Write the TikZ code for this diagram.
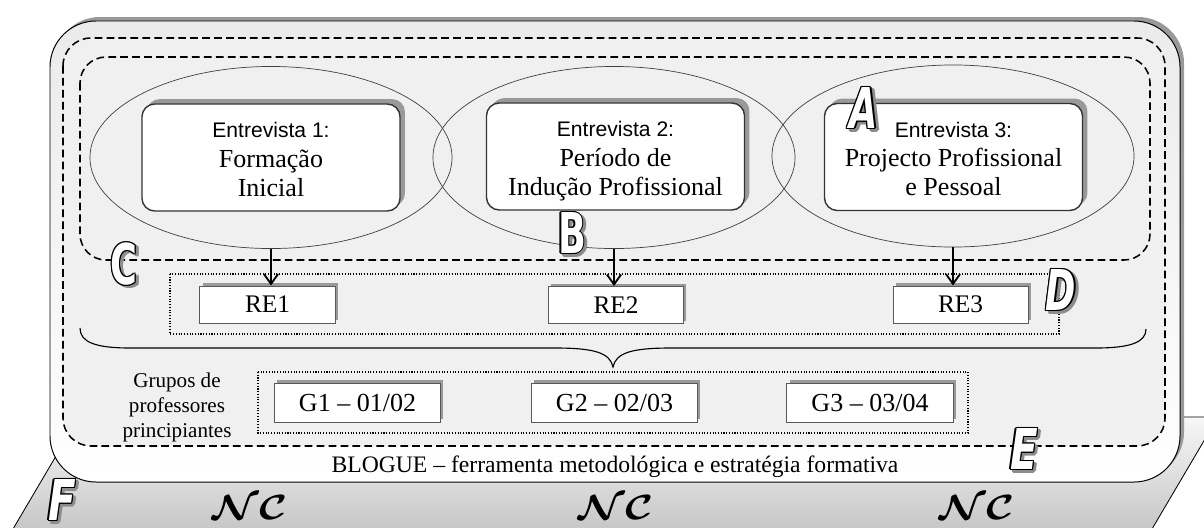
\documentclass[tikz,border=0pt]{standalone}
\usepackage{fontspec}
\setmainfont{Liberation Serif}
\newfontfamily\esans{Liberation Sans}
\newfontfamily\letfont{DejaVu Sans}
\usetikzlibrary{shapes.geometric,shadows,arrows.meta,calc}

\newcommand\outletter[5]{% name, x, y, xscale, text
  \foreach \a in {0,45,...,315}{
    \node[letter, text=black!45, shift={(\a:1pt)}, xshift=2pt, yshift=-1.5pt] at (#2,#3) {\scalebox{#4}[1]{#5}};
  }
  \foreach \a in {0,45,...,315}{
    \node[letter, text=black, shift={(\a:0.9pt)}] at (#2,#3) {\scalebox{#4}[1]{#5}};
  }
  \node[letter, text=white] (#1) at (#2,#3) {\scalebox{#4}[1]{#5}};
}

\begin{document}
\begin{tikzpicture}[x=0.025cm,y=-0.025cm,
  dashedbox/.style={line width=1.1pt, dash pattern=on 5.5pt off 3pt},
  dottedbox/.style={line width=0.75pt, dash pattern=on 0.75pt off 1.2pt},
  ebox/.style={draw=black!80, line width=1pt, fill=white, rounded corners=0.32cm,
    minimum width=6.45cm, minimum height=2.675cm, inner sep=0pt, align=center,
    font=\fontsize{18.5}{20.8}\selectfont,
    drop shadow={shadow xshift=3.5pt, shadow yshift=3.5pt, fill=black!40, opacity=1}},
  ellip/.style={ellipse, draw=black!75, line width=0.5pt, minimum width=9.05cm,
    minimum height=4.55cm, inner sep=0pt},
  rebox/.style={draw=black!65, line width=0.7pt, fill=white, minimum width=3.375cm,
    minimum height=0.925cm, inner sep=0pt, font=\fontsize{18}{20}\selectfont,
    drop shadow={shadow xshift=2pt, shadow yshift=2pt, fill=black!40, opacity=1}},
  gbox/.style={rebox, minimum width=4.15cm, minimum height=0.975cm,
    font=\fontsize{18.5}{20}\selectfont},
  flow/.style={line width=1.3pt, -{Straight Barb[length=7pt,width=10pt]}},
  letter/.style={inner sep=0pt, font=\letfont\bfseries\fontsize{40}{40}\selectfont},
  nctext/.style={anchor=base, inner sep=0pt, font=\fontsize{24}{24}\selectfont},
]
\useasboundingbox (0,0) rectangle (1204,527);

% platform F
\draw[line width=0.6pt, top color=black!3, bottom color=black!22]
  (13,529) -- (79,417) -- (1218,417) -- (1152,529) -- cycle;

% main box BLOGUE
\fill[black!40, rounded corners=1.15cm] (54,17) rectangle (1184,478);
\draw[line width=0.7pt, rounded corners=1.15cm, top color=black!8, bottom color=white]
  (50,21) rectangle (1180,482);

% dashed boxes
\draw[dashedbox, fill=black!6, rounded corners=0.7cm] (63,38) rectangle (1165,446);
\draw[dashedbox, rounded corners=0.65cm] (80,57) rectangle (1150,260);

% ellipses
\node[ellip] (el1) at (271,157.5) {};
\node[ellip] (el2) at (614,157.5) {};
\node[ellip] (el3) at (953,156) {};

% interview boxes
\node[ebox] (e1) at (271,157.5) {{\esans\fontsize{15}{20.8}\selectfont\rule{0pt}{17.8pt}Entrevista 1:}\\Formação\\Inicial\rule[-4pt]{0pt}{4pt}};
\node[ebox] (e2) at (615.5,156.5) {{\esans\fontsize{15}{20.8}\selectfont\rule{0pt}{17.8pt}Entrevista 2:}\\Período de\\Indução Profissional\rule[-4pt]{0pt}{4pt}};
\node[ebox] (e3) at (953.5,157) {{\esans\fontsize{15}{20.8}\selectfont\rule{0pt}{17.8pt}Entrevista 3:}\\Projecto Profissional\\e Pessoal\rule[-4pt]{0pt}{4pt}};

% dotted groups
\draw[dottedbox] (170,274) rectangle (1059,334);
\draw[dottedbox] (258,372) rectangle (968,433);

% RE boxes
\node[rebox] (re1) at (267.5,304.5) {RE1};
\node[rebox] (re2) at (616,305) {RE2};
\node[rebox] (re3) at (960.5,304.5) {RE3};

% arrows
\draw[flow] (el1.south) -- (el1.south |- re1.north);
\draw[flow] (el2.south) -- (el2.south |- re2.north);
\draw[flow] (el3.south) -- (el3.south |- re3.north);

% brace
\draw[line width=0.8pt] (80,328) .. controls (80,342) and (95,348) .. (130,348)
  -- (555,348) .. controls (595,348) and (610,353) .. (613,367)
  .. controls (616,353) and (631,348) .. (671,348)
  -- (1096,348) .. controls (1131,348) and (1146,342) .. (1146,329);

% G boxes
\node[gbox] (g1) at (357.5,402.5) {G1 – 01/02};
\node[gbox] (g2) at (614.5,402.5) {G2 – 02/03};
\node[gbox] (g3) at (870,402.5) {G3 – 03/04};

% texts
\node[font=\fontsize{15}{17.8}\selectfont, align=center, inner sep=0pt] (grp) at (177,407) {Grupos de\\professores\\principiantes};
\node[font=\fontsize{16.8}{20}\selectfont, anchor=base, inner sep=0pt] (blog) at (615,472) {BLOGUE – ferramenta metodológica e estratégia formativa};
\node[nctext] (nc1) at (250,519) {\scalebox{1.22}[1]{\boldmath$\mathcal{NC}$}};
\node[nctext] (nc2) at (616,519) {\scalebox{1.22}[1]{\boldmath$\mathcal{NC}$}};
\node[nctext] (nc3) at (977,519) {\scalebox{1.22}[1]{\boldmath$\mathcal{NC}$}};

% letters
\outletter{la}{864}{108}{0.65}{\itshape A}
\outletter{lb}{572}{233}{0.65}{B}
\outletter{lc}{124}{264}{0.65}{C}
\outletter{ld}{1061}{290}{0.65}{\itshape D}
\outletter{le}{1024}{449}{0.72}{\itshape E}
\outletter{lf}{62}{500}{0.72}{\itshape F}
\end{tikzpicture}
\end{document}
